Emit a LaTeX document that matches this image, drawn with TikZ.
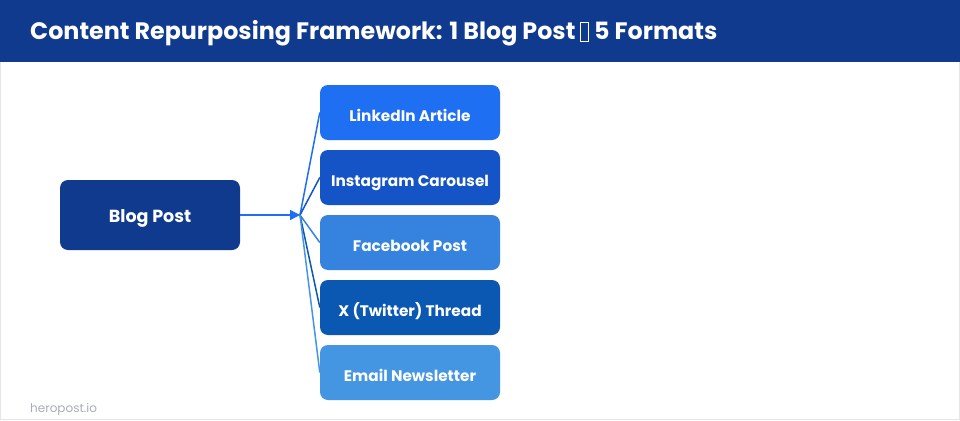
\documentclass[tikz,border=0pt]{standalone}
\usepackage{fontspec}
\setmainfont{Poppins}
\usetikzlibrary{arrows.meta}
\definecolor{navy}{HTML}{0F3A8E}
\definecolor{cLinked}{HTML}{1F6FF2}
\definecolor{cInsta}{HTML}{1554C6}
\definecolor{cFace}{HTML}{3583DE}
\definecolor{cX}{HTML}{0A58B2}
\definecolor{cMail}{HTML}{4596E2}
\definecolor{footgray}{HTML}{A8AEB8}
\definecolor{edgegray}{HTML}{E2E6EC}
\begin{document}
\begin{tikzpicture}[x=1pt,y=-1pt,
  fmt/.style={rounded corners=8pt,minimum width=180pt,minimum height=55pt,inner sep=0pt,text=white,
    text height=17pt,text depth=0pt,font=\fontsize{15.3}{18}\selectfont\bfseries},
  link/.style={line width=1.5pt}]
\useasboundingbox (0,0) rectangle (960,420);
\fill[white] (0,0) rectangle (960,420);
\draw[edgegray,line width=1pt] (0.5,0.5) rectangle (959.5,419.5);
\fill[navy] (0,0) rectangle (960,62);
\node[anchor=base west,inner sep=0pt,text=white,font=\fontsize{23.8}{26}\selectfont\bfseries] (title) at (30,39.5)
  {Content Repurposing Framework: 1 Blog Post {\setlength\fboxsep{0pt}\setlength\fboxrule{0.8pt}\fbox{\rule[-2pt]{0pt}{19pt}\hspace{7pt}}} 5 Formats};
\node[fmt,fill=navy,minimum height=70pt,text height=15.4pt,font=\fontsize{17.5}{19}\selectfont\bfseries] (blog) at (150,215) {Blog Post};
\node[fmt,fill=cLinked] (li) at (410,112.5) {LinkedIn Article};
\node[fmt,fill=cInsta] (ig) at (410,177.5) {Instagram Carousel};
\node[fmt,fill=cFace] (fb) at (410,242.5) {Facebook Post};
\node[fmt,fill=cX] (tw) at (410,307.5) {X (Twitter) Thread};
\node[fmt,fill=cMail] (em) at (410,372.5) {Email Newsletter};
\coordinate (hub) at (300,215);
\draw[link,cLinked,-{Triangle[length=10pt,width=10pt]}] (blog.east) -- (hub);
\draw[link,cLinked] (hub) -- (li.west);
\draw[link,cInsta] (hub) -- (ig.west);
\draw[link,cFace] (hub) -- (fb.west);
\draw[link,cX] (hub) -- (tw.west);
\draw[link,cMail] (hub) -- (em.west);
\node[anchor=base west,inner sep=0pt,text=footgray,font=\fontsize{12}{14}\selectfont] (foot) at (30,412) {heropost.io};
\end{tikzpicture}
\end{document}
